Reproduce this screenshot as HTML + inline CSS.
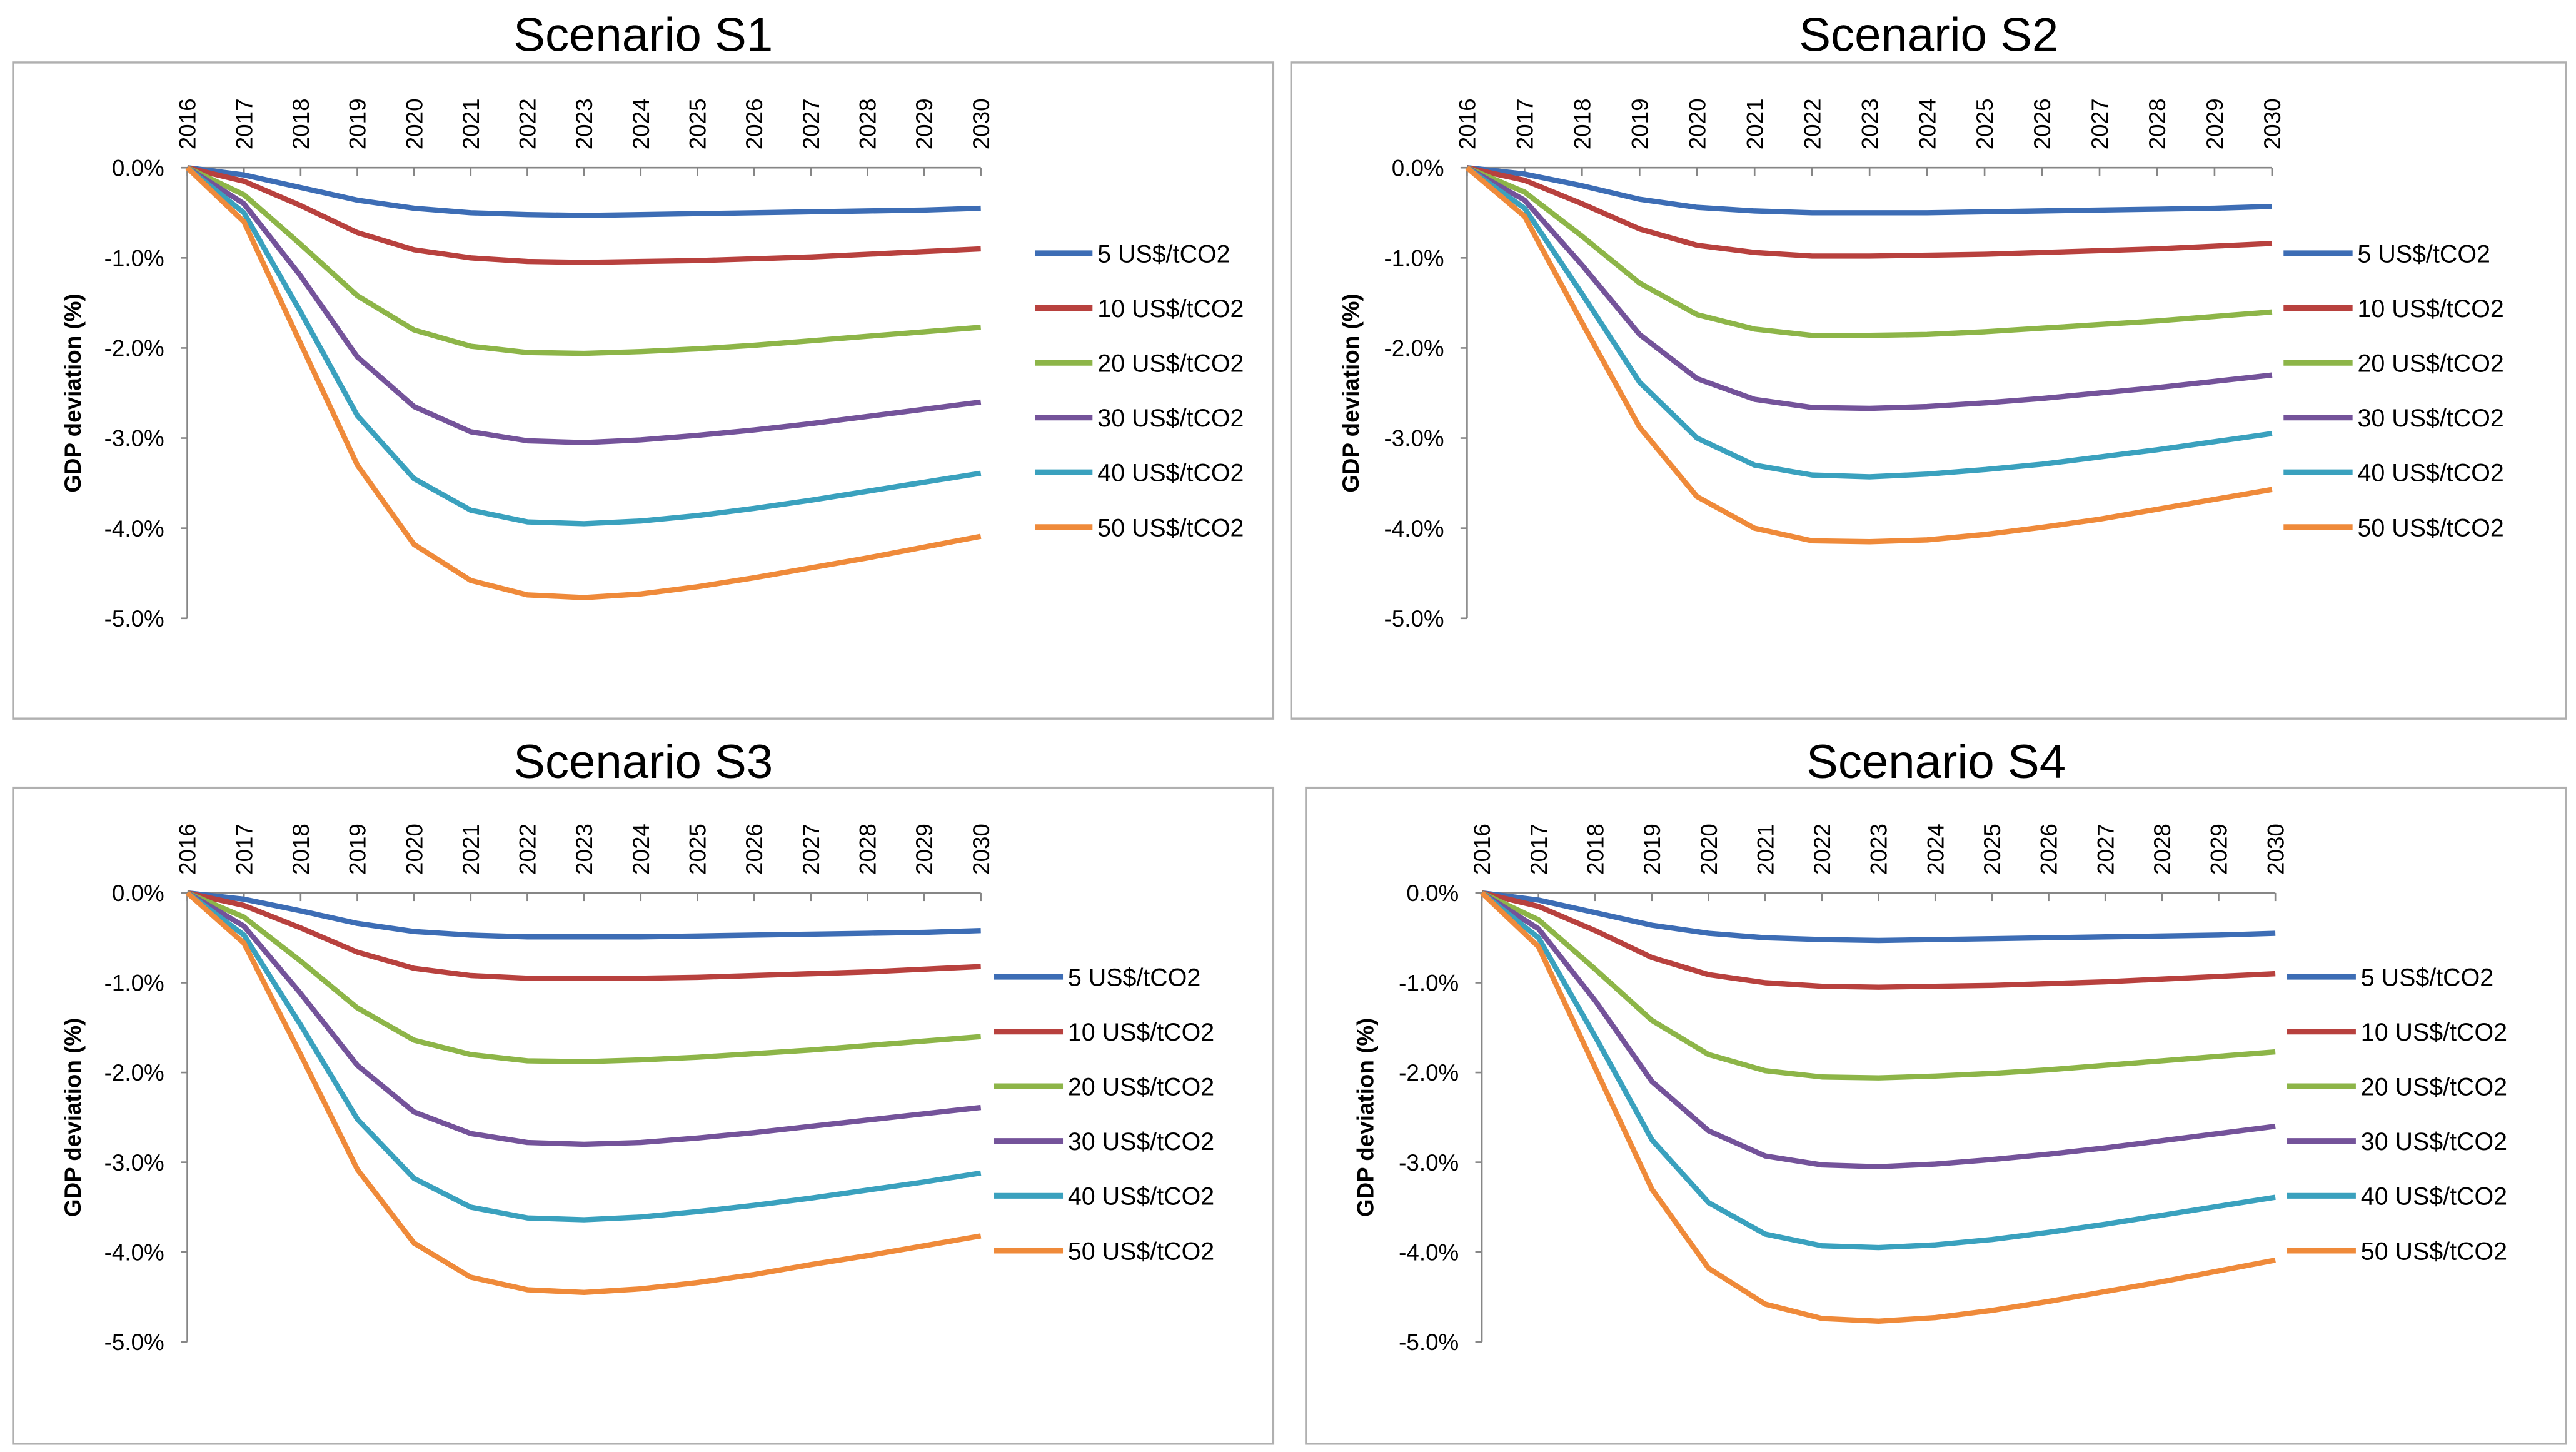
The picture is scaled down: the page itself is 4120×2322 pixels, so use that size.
<!DOCTYPE html>
<html><head><meta charset="utf-8"><style>
html,body{margin:0;padding:0;background:#fff;}
svg{display:block;}
text{font-family:"Liberation Sans",sans-serif;}
</style></head><body>
<svg id="root" width="4120" height="2322" viewBox="0 0 1568 883" preserveAspectRatio="none" xmlns="http://www.w3.org/2000/svg"></svg>
<script>
const years = [2016,2017,2018,2019,2020,2021,2022,2023,2024,2025,2026,2027,2028,2029,2030];
const yTicks = [0,-1,-2,-3,-4,-5];
const seriesNames = ["5 US$/tCO2","10 US$/tCO2","20 US$/tCO2","30 US$/tCO2","40 US$/tCO2","50 US$/tCO2"];
const s1_5  = [0,-0.08,-0.22,-0.36,-0.45,-0.50,-0.52,-0.53,-0.52,-0.51,-0.50,-0.49,-0.48,-0.47,-0.45];
const s1_10 = [0,-0.15,-0.42,-0.72,-0.91,-1.00,-1.04,-1.05,-1.04,-1.03,-1.01,-0.99,-0.96,-0.93,-0.90];
const s1_20 = [0,-0.30,-0.85,-1.42,-1.80,-1.98,-2.05,-2.06,-2.04,-2.01,-1.97,-1.92,-1.87,-1.82,-1.77];
const s1_30 = [0,-0.40,-1.20,-2.10,-2.65,-2.93,-3.03,-3.05,-3.02,-2.97,-2.91,-2.84,-2.76,-2.68,-2.60];
const s1_40 = [0,-0.50,-1.60,-2.75,-3.45,-3.80,-3.93,-3.95,-3.92,-3.86,-3.78,-3.69,-3.59,-3.49,-3.39];
const s1_50 = [0,-0.60,-1.95,-3.30,-4.18,-4.58,-4.74,-4.77,-4.73,-4.65,-4.55,-4.44,-4.33,-4.21,-4.09];
const s2_5  = [0,-0.07,-0.20,-0.35,-0.44,-0.48,-0.50,-0.50,-0.50,-0.49,-0.48,-0.47,-0.46,-0.45,-0.43];
const s2_10 = [0,-0.14,-0.40,-0.68,-0.86,-0.94,-0.98,-0.98,-0.97,-0.96,-0.94,-0.92,-0.90,-0.87,-0.84];
const s2_20 = [0,-0.27,-0.76,-1.28,-1.63,-1.79,-1.86,-1.86,-1.85,-1.82,-1.78,-1.74,-1.70,-1.65,-1.60];
const s2_30 = [0,-0.36,-1.08,-1.85,-2.34,-2.57,-2.66,-2.67,-2.65,-2.61,-2.56,-2.50,-2.44,-2.37,-2.30];
const s2_40 = [0,-0.45,-1.40,-2.38,-3.00,-3.30,-3.41,-3.43,-3.40,-3.35,-3.29,-3.21,-3.13,-3.04,-2.95];
const s2_50 = [0,-0.54,-1.72,-2.88,-3.65,-4.00,-4.14,-4.15,-4.13,-4.07,-3.99,-3.90,-3.79,-3.68,-3.57];
const s3_5  = [0,-0.07,-0.20,-0.34,-0.43,-0.47,-0.49,-0.49,-0.49,-0.48,-0.47,-0.46,-0.45,-0.44,-0.42];
const s3_10 = [0,-0.14,-0.39,-0.66,-0.84,-0.92,-0.95,-0.95,-0.95,-0.94,-0.92,-0.90,-0.88,-0.85,-0.82];
const s3_20 = [0,-0.27,-0.76,-1.28,-1.64,-1.80,-1.87,-1.88,-1.86,-1.83,-1.79,-1.75,-1.70,-1.65,-1.60];
const s3_30 = [0,-0.37,-1.12,-1.92,-2.44,-2.68,-2.78,-2.80,-2.78,-2.73,-2.67,-2.60,-2.53,-2.46,-2.39];
const s3_40 = [0,-0.47,-1.47,-2.52,-3.18,-3.50,-3.62,-3.64,-3.61,-3.55,-3.48,-3.40,-3.31,-3.22,-3.12];
const s3_50 = [0,-0.56,-1.80,-3.08,-3.90,-4.28,-4.42,-4.45,-4.41,-4.34,-4.25,-4.14,-4.04,-3.93,-3.82];
const s4_5  = [0,-0.08,-0.22,-0.36,-0.45,-0.50,-0.52,-0.53,-0.52,-0.51,-0.50,-0.49,-0.48,-0.47,-0.45];
const s4_10 = [0,-0.15,-0.42,-0.72,-0.91,-1.00,-1.04,-1.05,-1.04,-1.03,-1.01,-0.99,-0.96,-0.93,-0.90];
const s4_20 = [0,-0.30,-0.85,-1.42,-1.80,-1.98,-2.05,-2.06,-2.04,-2.01,-1.97,-1.92,-1.87,-1.82,-1.77];
const s4_30 = [0,-0.40,-1.20,-2.10,-2.65,-2.93,-3.03,-3.05,-3.02,-2.97,-2.91,-2.84,-2.76,-2.68,-2.60];
const s4_40 = [0,-0.50,-1.60,-2.75,-3.45,-3.80,-3.93,-3.95,-3.92,-3.86,-3.78,-3.69,-3.59,-3.49,-3.39];
const s4_50 = [0,-0.60,-1.95,-3.30,-4.18,-4.58,-4.74,-4.77,-4.73,-4.65,-4.55,-4.44,-4.33,-4.21,-4.09];
const colors = ["#4472c4","#c0504d","#9bbb59","#8064a2","#4bacc6","#f79646"];
const colorsActual = ["#3d6db5","#b8413e","#8db548","#74539a","#3aa1be","#ef8a3a"];

const panels = [
 {id:"s1",title:"Scenario S1",fx:8,fy:38,fw:767,fh:399,ty:20,x0:114,x1:597,y0:102,y1:376,lx:630,tx:668,ly:154,data:[s1_5,s1_10,s1_20,s1_30,s1_40,s1_50]},
 {id:"s2",title:"Scenario S2",fx:786,fy:38,fw:776,fh:399,ty:20,x0:893,x1:1383,y0:102,y1:376,lx:1390,tx:1435,ly:154,data:[s2_5,s2_10,s2_20,s2_30,s2_40,s2_50]},
 {id:"s3",title:"Scenario S3",fx:8,fy:479,fw:767,fh:399,ty:462,x0:114,x1:597,y0:543,y1:816,lx:605,tx:650,ly:594,data:[s3_5,s3_10,s3_20,s3_30,s3_40,s3_50]},
 {id:"s4",title:"Scenario S4",fx:795,fy:479,fw:767,fh:399,ty:462,x0:902,x1:1385,y0:543,y1:816,lx:1392,tx:1437,ly:594,data:[s4_5,s4_10,s4_20,s4_30,s4_40,s4_50]}
];
const NS="http://www.w3.org/2000/svg";
const root=document.getElementById('root');
function mk(tag,attrs,parent){const e=document.createElementNS(NS,tag);for(const k in attrs)e.setAttribute(k,attrs[k]);(parent||root).appendChild(e);return e;}

panels.forEach(p=>{
  const g=mk('g',{});
  
  
  const xs=i=>p.x0+(p.x1-p.x0)*i/(years.length-1);
  const ys=v=>p.y0+(p.y1-p.y0)*(-v)/5;
  const t=mk('text',{x:(p.fx+p.fx+p.fw)/2,y:p.ty+11,'text-anchor':'middle','font-size':29,fill:'#000'},g);
  t.textContent=p.title;
  
  
  const fr=mk('rect',{x:p.fx,y:p.fy,width:p.fw,height:p.fh,fill:'none',stroke:'#b0b0b0','stroke-width':1.3},g);
  
  
  // axes
  const xa=mk('line',{x1:p.x0,y1:p.y0,x2:p.x1,y2:p.y0,stroke:'#868686','stroke-width':1},g);
  
  
  const ya=mk('line',{x1:p.x0,y1:p.y0,x2:p.x0,y2:p.y1,stroke:'#868686','stroke-width':1},g);
  
  
  years.forEach((yr,i)=>{
    const x=xs(i);
    mk('line',{x1:x,y1:p.y0,x2:x,y2:p.y0+5,stroke:'#868686','stroke-width':1},g);
    const tl=mk('text',{x:0,y:0,transform:`translate(${x+5},${p.y0-11}) rotate(-90)`,'font-size':14,fill:'#000'},g);
    tl.textContent=yr;
    
    
  });
  yTicks.forEach(v=>{
    const y=ys(v);
    mk('line',{x1:p.x0-4,y1:y,x2:p.x0,y2:y,stroke:'#868686','stroke-width':1},g);
    const tl=mk('text',{x:p.x0-14,y:y+5,'text-anchor':'end','font-size':14,fill:'#000'},g);
    tl.textContent=v.toFixed(1)+'%';
    
    
  });
  const at=mk('text',{x:0,y:0,transform:`translate(${p.fx+41},${(p.y0+p.y1)/2}) rotate(-90)`,'text-anchor':'middle','font-size':14,'font-weight':'bold',fill:'#000'},g);
  at.textContent='GDP deviation (%)';
  
  
  p.data.forEach((arr,si)=>{
    const pts=arr.map((v,i)=>xs(i).toFixed(2)+','+ys(v).toFixed(2)).join(' ');
    const pl=mk('polyline',{points:pts,fill:'none',stroke:colorsActual[si],'stroke-width':3.2,'stroke-linejoin':'round'},g);
    
    
    const ly=p.ly+si*33.3;
    const ll=mk('line',{x1:p.lx,y1:ly,x2:p.tx-3,y2:ly,stroke:colorsActual[si],'stroke-width':3.5},g);
    
    
    const lt=mk('text',{x:p.tx,y:ly+5.5,'font-size':15,fill:'#000'},g);
    lt.textContent=seriesNames[si];
    
    
  });
});
</script>
</body></html>
